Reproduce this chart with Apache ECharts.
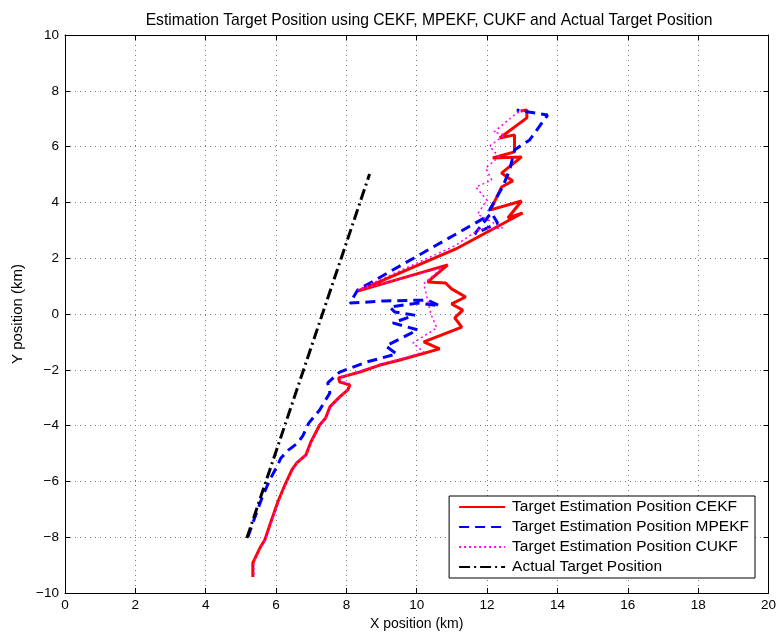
<!DOCTYPE html>
<html>
<head>
<meta charset="utf-8">
<script src="https://cdn.jsdelivr.net/npm/echarts@6/dist/echarts.min.js"></script>
<style>
  html, body { margin: 0; padding: 0; background: #fff; }
  #chart { width: 779px; height: 636px; }
</style>
</head>
<body>
<div id="chart"></div>
<script>
// Track positions in km: [x, y]
const cekfTrack = [
  [5.34, -9.43], [5.34, -8.92], [5.54, -8.39], [5.68, -8.10], [5.85, -7.46],
  [6.05, -6.74], [6.25, -6.13], [6.45, -5.59], [6.59, -5.34], [6.85, -5.05],
  [6.99, -4.59], [7.24, -3.98], [7.41, -3.73], [7.53, -3.33], [7.81, -2.97],
  [8.04, -2.72], [8.10, -2.54], [7.81, -2.44], [7.78, -2.29], [8.38, -2.08],
  [8.95, -1.83], [9.52, -1.65], [10.65, -1.25], [10.20, -1.00], [11.28, -0.47],
  [11.08, -0.14], [11.31, 0.14], [10.99, 0.36], [11.39, 0.61], [10.99, 0.90],
  [10.82, 1.11], [10.31, 1.15], [10.88, 1.76], [8.32, 0.82], [11.11, 2.33],
  [13.01, 3.62], [12.59, 3.44], [12.98, 4.05], [12.10, 3.73], [12.41, 4.55],
  [12.73, 4.77], [12.41, 5.05], [12.98, 5.63], [12.16, 5.59], [12.78, 5.81],
  [12.78, 6.42], [12.36, 6.31], [13.13, 7.03], [13.13, 7.31], [12.95, 7.28]
];

const mpekfTrack = [
  [5.20, -7.99], [5.40, -7.28], [5.60, -6.59], [5.82, -5.95], [6.02, -5.48],
  [6.14, -5.16], [6.36, -4.87], [6.62, -4.62], [6.76, -4.37], [6.93, -3.91],
  [7.24, -3.44], [7.53, -2.83], [7.47, -2.47], [7.81, -2.08], [8.58, -1.72],
  [9.43, -1.43], [9.12, -1.15], [9.63, -0.82], [10.03, -0.57], [9.32, -0.32],
  [9.94, -0.04], [9.38, 0.07], [9.23, 0.25], [10.03, 0.39], [10.65, 0.29],
  [10.31, 0.50], [9.09, 0.47], [8.10, 0.39], [8.32, 0.86], [12.07, 3.55],
  [11.65, 2.87], [12.30, 3.26], [12.07, 3.73], [12.44, 4.55], [12.64, 5.16],
  [12.78, 5.88], [13.21, 6.24], [13.72, 7.13], [12.84, 7.31]
];

const cukfTrack = [
  [5.37, -9.35], [5.37, -8.89], [5.57, -8.35], [5.71, -8.06], [5.88, -7.42],
  [6.08, -6.70], [6.28, -6.09], [6.48, -5.56], [6.62, -5.30], [6.88, -5.02],
  [7.02, -4.55], [7.27, -3.94], [7.44, -3.69], [7.56, -3.30], [7.84, -2.94],
  [8.07, -2.69], [8.13, -2.51], [7.84, -2.40], [7.81, -2.26], [8.41, -2.04],
  [8.98, -1.79], [9.55, -1.61], [10.20, -1.36], [9.89, -1.04], [10.57, -0.50],
  [10.40, 0.00], [10.31, 0.50], [10.20, 1.08], [10.71, 1.65], [8.32, 0.86],
  [11.08, 2.44], [11.79, 3.05], [12.44, 3.08], [11.73, 3.58], [11.99, 4.09],
  [11.68, 4.55], [12.13, 4.80], [11.96, 5.23], [12.33, 5.63], [12.07, 6.02],
  [12.50, 6.42], [12.19, 6.52], [12.84, 7.20], [13.10, 7.31]
];

const actualTrack = [
  [5.17, -8.03], [8.66, 5.02]
];

const seriesNames = [
  'Target Estimation Position CEKF',
  'Target Estimation Position MPEKF',
  'Target Estimation Position CUKF',
  'Actual Target Position'
];

const xTicks = { min: 0, max: 20, step: 2 };
const yTicks = { min: -10, max: 10, step: 2 };

const FONT = '"Liberation Sans", Arial, Helvetica, sans-serif';
const fmt = v => String(v).replace('-', '\u2212');

const grid = { left: 65, top: 35, width: 704, height: 558 };

const gridLine = { show: true, lineStyle: { color: '#7a7a7a', type: [1, 4], width: 1 } };
const axisLine = { show: true, onZero: false, lineStyle: { color: '#000', width: 1 } };
const tickIn = { show: true, inside: true, length: 5, lineStyle: { color: '#000' } };

const chart = echarts.init(document.getElementById('chart'), null, { renderer: 'canvas' });

chart.setOption({
  backgroundColor: '#fff',
  animation: false,
  title: {
    text: 'Estimation Target Position using CEKF, MPEKF, CUKF and Actual Target Position',
    left: 424,
    top: 8,
    textAlign: 'center',
    textStyle: { fontFamily: FONT, fontSize: 15.7, fontWeight: 'normal', color: '#000' }
  },
  grid: grid,
  legend: {
    orient: 'vertical',
    right: 24,
    bottom: 58,
    data: seriesNames,
    backgroundColor: '#fff',
    borderColor: '#000',
    borderWidth: 1,
    borderRadius: 0,
    padding: [3, 6, 3, 9],
    itemWidth: 46,
    itemHeight: 14,
    itemGap: 4,
    itemStyle: { opacity: 0 },
    textStyle: { fontFamily: FONT, fontSize: 15.5, color: '#000', padding: [0, 0, 0, 2] }
  },
  xAxis: [
    {
      type: 'value', min: xTicks.min, max: xTicks.max, interval: xTicks.step,
      position: 'bottom',
      name: 'X position (km)', nameLocation: 'middle', nameGap: 20,
      nameTextStyle: { fontFamily: FONT, fontSize: 14, color: '#000' },
      axisLine: axisLine, axisTick: tickIn,
      axisLabel: { fontFamily: FONT, fontSize: 13.5, color: '#000', margin: 5, formatter: fmt },
      splitLine: gridLine
    },
    {
      type: 'value', min: xTicks.min, max: xTicks.max, interval: xTicks.step,
      position: 'top',
      axisLine: axisLine, axisTick: tickIn,
      axisLabel: { show: false }, splitLine: { show: false }
    }
  ],
  yAxis: [
    {
      type: 'value', min: yTicks.min, max: yTicks.max, interval: yTicks.step,
      position: 'left',
      name: 'Y position (km)', nameLocation: 'middle', nameGap: 39,
      nameTextStyle: { fontFamily: FONT, fontSize: 15, color: '#000' },
      axisLine: axisLine, axisTick: tickIn,
      axisLabel: { fontFamily: FONT, fontSize: 13.5, color: '#000', margin: 6, formatter: fmt },
      splitLine: gridLine
    },
    {
      type: 'value', min: yTicks.min, max: yTicks.max, interval: yTicks.step,
      position: 'right',
      axisLine: axisLine, axisTick: tickIn,
      axisLabel: { show: false }, splitLine: { show: false }
    }
  ],
  series: [
    {
      name: seriesNames[0], type: 'line', data: cekfTrack,
      symbol: 'none', showSymbol: false, smooth: false,
      lineStyle: { color: '#ff0000', width: 3, type: 'solid' },
      itemStyle: { color: '#ff0000' }
    },
    {
      name: seriesNames[1], type: 'line', data: mpekfTrack,
      symbol: 'none', showSymbol: false, smooth: false,
      lineStyle: { color: '#0000ff', width: 3, type: [10, 6] },
      itemStyle: { color: '#0000ff' }
    },
    {
      name: seriesNames[2], type: 'line', data: cukfTrack,
      symbol: 'none', showSymbol: false, smooth: false,
      lineStyle: { color: '#ff00ff', width: 1.5, type: [2, 3] },
      itemStyle: { color: '#ff00ff' }
    },
    {
      name: seriesNames[3], type: 'line', data: actualTrack,
      symbol: 'none', showSymbol: false, smooth: false,
      lineStyle: { color: '#000000', width: 3, type: [11, 4, 2, 4] },
      itemStyle: { color: '#000000' }
    }
  ]
});
</script>
</body>
</html>
